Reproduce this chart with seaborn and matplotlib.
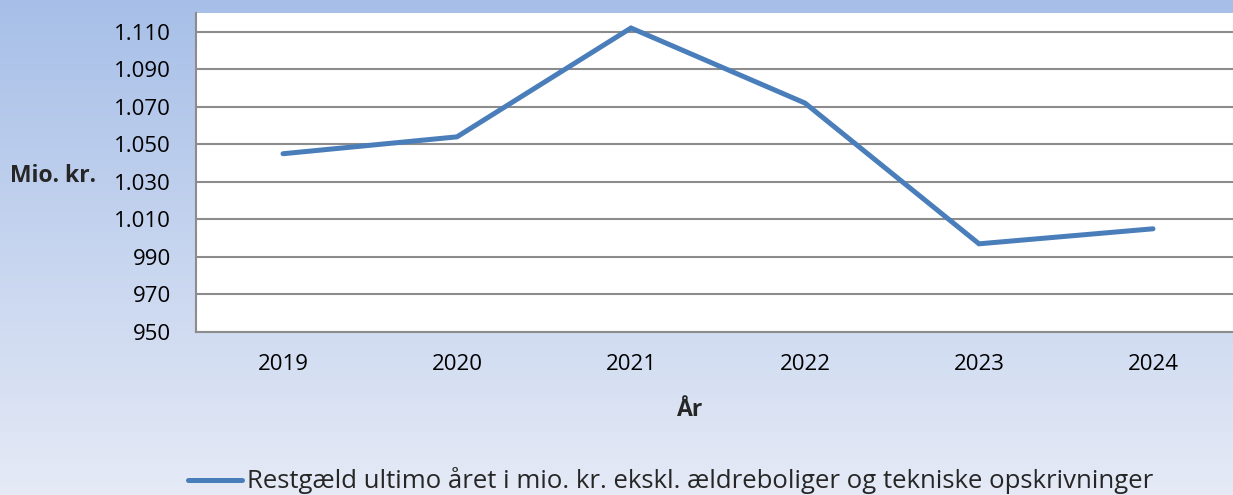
import numpy as np
import pandas as pd
import matplotlib
matplotlib.use("Agg")
import matplotlib.pyplot as plt
import seaborn as sns
from matplotlib.ticker import FixedLocator

# Data
years = ["2019", "2020", "2021", "2022", "2023", "2024"]
restgaeld = [1045, 1054, 1112, 1072, 997, 1005]
y_ticks = [950, 970, 990, 1010, 1030, 1050, 1070, 1090, 1110]
y_tick_labels = ["950", "970", "990", "1.010", "1.030", "1.050", "1.070", "1.090", "1.110"]
series_label = "Restgæld ultimo året i mio. kr. ekskl. ældreboliger og tekniske opskrivninger"

df = pd.DataFrame({"År": years, "Restgæld": restgaeld})

sns.set_style("white")
plt.rcParams["font.family"] = ["Open Sans", "DejaVu Sans"]

W, H = 1233, 495
fig = plt.figure(figsize=(W / 100, H / 100), dpi=100)

# gradient background (blue at top, pale at bottom)
bg = fig.add_axes([0, 0, 1, 1], zorder=-10)
top = np.array([167, 191, 232]) / 255
bottom = np.array([229, 234, 246]) / 255
t = np.linspace(0, 1, 256)[:, None]
grad = top * (1 - t) + bottom * t
bg.imshow(grad[:, None, :], aspect="auto", extent=[0, 1, 0, 1], origin="upper")
bg.axis("off")

# plot area in pixel coords: left 196, top 13, bottom 332, right 1240
ax = fig.add_axes([196 / W, 1 - 332 / H, (1240 - 196) / W, (332 - 13) / H])
ax.set_facecolor("white")

sns.lineplot(data=df, x="År", y="Restgæld", ax=ax, color="#4A7EBB",
             linewidth=3.6, solid_capstyle="round", solid_joinstyle="miter",
             label=series_label, legend=False)

ax.set_xlim(-0.5, 5.5)
ax.set_ylim(950, 1120)
ax.set_yticks(y_ticks)
ax.set_yticklabels(y_tick_labels)
ax.yaxis.grid(True, color="#8C8C8C", linewidth=1.5)
ax.set_axisbelow(True)

ax.xaxis.set_minor_locator(FixedLocator(np.arange(-0.5, 5.6, 1.0)))
ax.tick_params(axis="x", which="major", length=0, pad=16, labelsize=16, colors="black")
ax.tick_params(axis="x", which="minor", length=6, width=1.2, color="#8C8C8C", direction="out")
ax.tick_params(axis="y", length=6, width=1.2, color="#8C8C8C", direction="out",
               labelsize=16, pad=12, labelcolor="black")

for side in ["top", "right"]:
    ax.spines[side].set_visible(False)
for side in ["left", "bottom"]:
    ax.spines[side].set_color("#8C8C8C")
    ax.spines[side].set_linewidth(1.5)

ax.set_xlabel("")
ax.set_ylabel("")
fig.text(10 / W, 1 - 176 / H, "Mio. kr.", fontsize=16.5, fontweight="bold",
         ha="left", va="center")
fig.text(690 / W, 1 - 410 / H, "År", fontsize=16.5, fontweight="bold",
         ha="center", va="center")

handles, labels = ax.get_legend_handles_labels()
fig.legend(handles, labels, loc="center", bbox_to_anchor=(671 / W, 1 - 481 / H),
           frameon=False, fontsize=18.5, handlelength=2.1, handletextpad=0.2,
           borderpad=0)

fig.savefig("out.png", dpi=100)
